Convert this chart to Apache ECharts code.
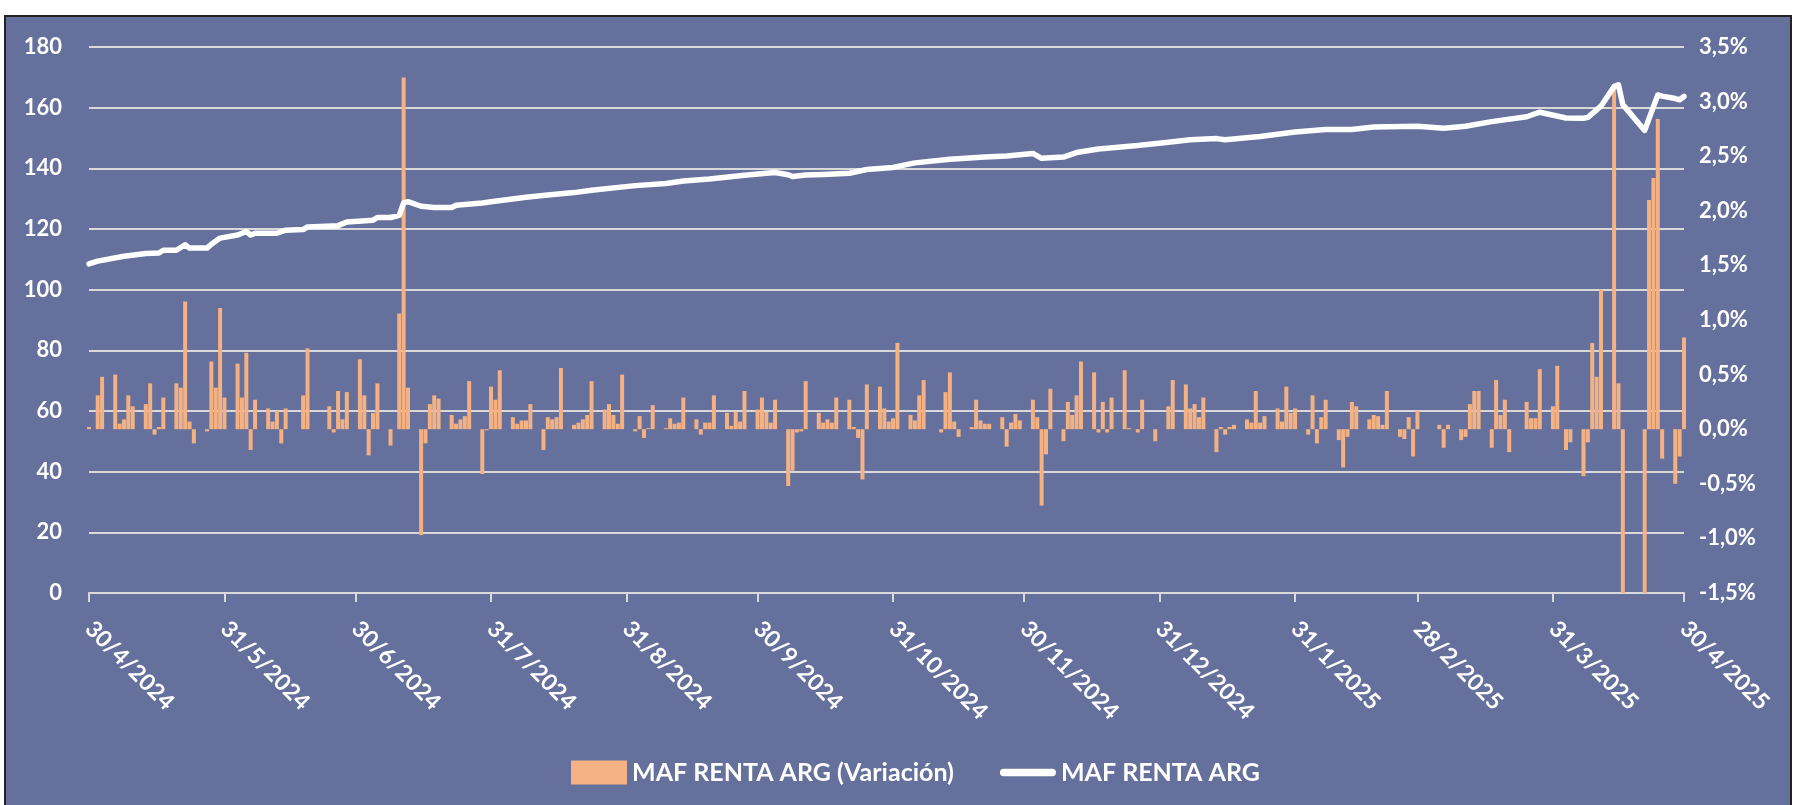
<!DOCTYPE html>
<html>
<head>
<meta charset="utf-8">
<script src="https://cdn.jsdelivr.net/npm/echarts@6/dist/echarts.min.js"></script>
<style>
  html, body { margin: 0; padding: 0; background: #fff; }
  #panel { position: absolute; left: 4px; top: 15px; width: 1784px; height: 800px; background: #65709c; border: 2px solid #222; border-bottom: none; }
  #chart { position: absolute; left: 0; top: 0; width: 1796px; height: 805px; }
</style>
</head>
<body>
<div id="panel"></div>
<div id="chart"></div>
<script>
// one row per week, Mon..Fri, first Monday = 29/4/2024 (null = no quote)
var variacion = [
  [null, 0.02, null, 0.31, 0.48],
  [0.50, 0.05, 0.09, 0.31, 0.21],
  [0.23, 0.42, -0.05, 0.02, 0.29],
  [0.42, 0.38, 1.17, 0.07, -0.13],
  [-0.02, 0.62, 0.38, 1.11, 0.29],
  [0.60, 0.29, 0.70, -0.19, 0.27],
  [0.19, 0.07, 0.17, -0.13, 0.19],
  [null, 0.31, 0.74, null, null],
  [0.21, -0.03, 0.35, 0.09, 0.34],
  [0.64, 0.31, -0.24, 0.15, 0.42],
  [-0.15, null, 1.06, 3.22, 0.38],
  [-0.97, -0.13, 0.23, 0.31, 0.28],
  [0.13, 0.05, 0.09, 0.12, 0.44],
  [-0.41, -0.01, 0.39, 0.27, 0.54],
  [0.11, 0.05, 0.08, 0.08, 0.23],
  [-0.19, 0.11, 0.09, 0.11, 0.56],
  [0.04, 0.06, 0.09, 0.13, 0.44],
  [0.18, 0.23, 0.13, 0.05, 0.50],
  [-0.02, 0.12, -0.08, 0.01, 0.22],
  [0.01, 0.10, 0.05, 0.06, 0.29],
  [0.09, -0.05, 0.06, 0.06, 0.31],
  [0.15, 0.03, 0.16, 0.07, 0.35],
  [0.18, 0.29, 0.16, 0.06, 0.27],
  [-0.52, -0.38, -0.03, -0.02, 0.44],
  [0.15, 0.06, 0.09, 0.06, 0.29],
  [0.27, 0.02, -0.08, -0.46, 0.41],
  [0.39, 0.19, 0.07, 0.10, 0.79],
  [0.13, 0.08, 0.31, 0.45, null],
  [-0.03, 0.34, 0.52, 0.07, -0.07],
  [0.02, 0.27, 0.08, 0.05, 0.05],
  [0.11, -0.16, 0.06, 0.14, 0.08],
  [0.27, 0.11, -0.70, -0.23, 0.37],
  [-0.11, 0.25, 0.13, 0.31, 0.62],
  [0.52, -0.03, 0.25, -0.03, 0.29],
  [0.54, 0.01, null, -0.03, 0.27],
  [-0.11, null, null, 0.21, 0.45],
  [0.41, 0.19, 0.23, 0.11, 0.29],
  [-0.21, 0.02, -0.05, 0.02, 0.04],
  [0.09, 0.06, 0.35, 0.06, 0.12],
  [0.19, 0.07, 0.39, 0.15, 0.19],
  [-0.05, 0.31, -0.13, 0.11, 0.27],
  [-0.10, -0.35, -0.07, 0.25, 0.21],
  [0.09, 0.13, 0.12, 0.04, 0.35],
  [-0.07, -0.09, 0.11, -0.25, 0.17],
  [null, null, 0.04, -0.17, 0.04],
  [-0.10, -0.07, 0.23, 0.35, 0.35],
  [-0.17, 0.45, 0.13, 0.27, -0.21],
  [null, 0.25, 0.10, 0.10, 0.55],
  [0.21, 0.58, null, -0.19, -0.12],
  [-0.43, -0.12, 0.79, 0.48, 1.28],
  [3.15, 0.42, -3.6, null, null],
  [-5.3, 2.10, 2.30, 2.84, -0.27],
  [-0.50, -0.25, 0.84]
];

// fund value read at some days (same week layout)
var valor = [
  [null, 108.5, null, 109.4, null],
  [null, null, 111.0, null, null],
  [111.9, null, null, 112.1, 113.0],
  [113.0, null, 114.8, 113.7, null],
  [113.7, 115.0, null, 117.0, null],
  [118.0, null, 119.2, 118.0, 118.6],
  [null, null, 118.6, null, 119.6],
  [null, 119.8, 120.7, null, null],
  [null, null, 121.1, null, 122.3],
  [null, null, null, 122.9, 123.8],
  [123.8, null, 124.5, 128.6, 129.0],
  [127.5, null, null, 127.1, null],
  [127.1, 127.8, null, null, null],
  [128.6, null, 129.0, null, null],
  [null, null, null, 130.5, null],
  [null, 131.2, null, null, null],
  [132.0, null, null, null, 132.8],
  [null, null, null, null, null],
  [134.3, null, null, null, null],
  [135.0, null, null, null, 135.8],
  [null, null, null, 136.5, null],
  [null, null, null, null, 137.7],
  [null, null, 138.4, null, 138.6],
  [137.9, 137.3, null, null, 137.8],
  [null, 138.0, null, null, null],
  [138.4, null, null, null, 139.6],
  [null, null, null, 140.3, null],
  [null, 141.8, null, null, null],
  [null, null, 143.0, null, null],
  [null, null, null, 143.7, null],
  [null, 144.1, null, null, null],
  [144.9, null, 143.3, null, null],
  [143.7, null, null, 145.2, null],
  [null, 146.4, null, null, null],
  [null, null, null, 147.5, null],
  [null, null, null, 148.6, null],
  [null, 149.4, null, null, null],
  [149.8, null, 149.4, null, null],
  [null, null, null, 150.5, null],
  [null, null, null, null, 152.0],
  [null, null, null, null, 152.8],
  [null, null, null, 152.8, null],
  [null, 153.6, null, null, null],
  [null, null, null, null, 153.9],
  [null, null, null, 153.2, null],
  [null, 153.9, null, null, null],
  [155.4, null, null, null, null],
  [null, 157.0, null, null, 158.5],
  [null, null, null, 156.6, null],
  [156.5, 156.8, null, null, 160.5],
  [167.0, 167.5, 161.0, null, null],
  [152.5, null, null, 164.2, 163.8],
  [163.0, 162.6, 163.7]
];

var monthEnds = ['30/4/2024', '31/5/2024', '30/6/2024', '31/7/2024', '31/8/2024', '30/9/2024',
  '31/10/2024', '30/11/2024', '31/12/2024', '31/1/2025', '28/2/2025', '31/3/2025', '30/4/2025'];

var DAY = 86400000;
var start = Date.UTC(2024, 3, 30);
var end = Date.UTC(2025, 3, 30);

function fmt(t) {
  var d = new Date(t);
  return d.getUTCDate() + '/' + (d.getUTCMonth() + 1) + '/' + d.getUTCFullYear();
}

var dates = [];
for (var t = start; t <= end; t += DAY) dates.push(fmt(t));

// weekly rows -> calendar days (row 0 starts on Monday 29/4, one day before start)
function spread(weeks) {
  var out = dates.map(function () { return '-'; });
  weeks.forEach(function (row, k) {
    row.forEach(function (v, j) {
      var idx = 7 * k + j - 1;
      if (v !== null && idx >= 0 && idx < out.length) out[idx] = v;
    });
  });
  return out;
}

var isMonthEnd = function (i, v) { return monthEnds.indexOf(v) >= 0; };

var font = 'Lato, "Open Sans", sans-serif';
var grid = '#d9d9d9';

var chart = echarts.init(document.getElementById('chart'), null, { renderer: 'canvas' });

chart.setOption({
  animation: false,
  backgroundColor: 'transparent',
  grid: { left: 89, right: 112, top: 47, bottom: 212, containLabel: false },
  legend: {
    left: 566,
    top: 755,
    itemGap: 46,
    itemWidth: 56,
    itemHeight: 24,
    textStyle: { color: '#fff', fontSize: 25, fontWeight: 'bold', fontFamily: font },
    data: [
      { name: 'MAF RENTA ARG (Variación)', icon: 'rect' },
      { name: 'MAF RENTA ARG', icon: 'path://M4,0H56A4,4 0 0 1 56,8H4A4,4 0 0 1 4,0Z' }
    ]
  },
  xAxis: {
    type: 'category',
    data: dates,
    boundaryGap: false,
    axisLine: { lineStyle: { color: grid, width: 2 } },
    axisTick: { interval: isMonthEnd, length: 9, lineStyle: { color: grid, width: 2 } },
    axisLabel: {
      interval: isMonthEnd,
      rotate: -45,
      margin: 32,
      color: '#fff',
      fontSize: 23,
      fontWeight: 'bold',
      fontFamily: font
    },
    splitLine: { show: false }
  },
  yAxis: [
    {
      type: 'value',
      min: 0,
      max: 180,
      interval: 20,
      axisLine: { show: false },
      axisTick: { show: false },
      axisLabel: { color: '#fff', fontSize: 22, fontWeight: 'bold', fontFamily: font, margin: 27 },
      splitLine: { lineStyle: { color: grid, width: 2 } }
    },
    {
      type: 'value',
      min: -1.5,
      max: 3.5,
      interval: 0.5,
      axisLine: { show: false },
      axisTick: { show: false },
      axisLabel: {
        color: '#fff', fontSize: 22, fontWeight: 'bold', fontFamily: font, margin: 15,
        formatter: function (v) { return v.toFixed(1).replace('.', ',') + '%'; }
      },
      splitLine: { show: false }
    }
  ],
  series: [
    {
      name: 'MAF RENTA ARG (Variación)',
      type: 'bar',
      yAxisIndex: 1,
      data: spread(variacion),
      barWidth: 4,
      clip: true,
      itemStyle: { color: '#f4b183' }
    },
    {
      name: 'MAF RENTA ARG',
      type: 'line',
      yAxisIndex: 0,
      data: spread(valor),
      connectNulls: true,
      symbol: 'none',
      z: 5,
      lineStyle: { color: '#fff', width: 5.5, cap: 'round', join: 'round' },
      itemStyle: { color: '#fff' }
    }
  ]
});

window.addEventListener('resize', function () { chart.resize(); });
</script>
</body>
</html>
